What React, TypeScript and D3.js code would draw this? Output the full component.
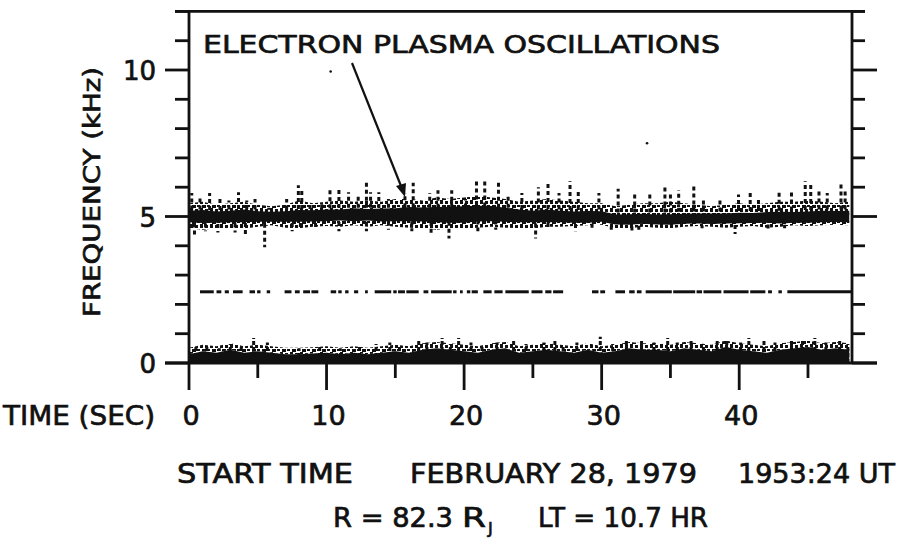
import React from 'react'
import * as d3 from 'd3'

const W = 897
const H = 538

// axis ticks
const xMajor = [0, 10, 20, 30, 40]
const xMinor = [5, 15, 25, 35, 45]
const yMajor = [0, 5, 10]
const yMinor = [1, 2, 3, 4, 6, 7, 8, 9, 11, 12]

// one-second bins, 0..48 s
const binTime = [0, 1, 2, 3, 4, 5, 6, 7, 8, 9, 10, 11, 12, 13, 14, 15, 16, 17, 18, 19, 20, 21, 22, 23, 24, 25, 26, 27, 28, 29, 30, 31, 32, 33, 34, 35, 36, 37, 38, 39, 40, 41, 42, 43, 44, 45, 46, 47, 48]

// electron plasma oscillation band (kHz)
const coreMid = [5.0, 5.0, 4.98, 5.0, 5.02, 5.0, 4.99, 5.0, 5.02, 5.02,
	5.04, 5.05, 5.06, 5.06, 5.05, 5.06, 5.08, 5.07, 5.06, 5.06,
	5.07, 5.1, 5.1, 5.06, 5.02, 5.0, 5.02, 5.0, 4.98, 4.99,
	5.0, 4.9, 4.9, 4.92, 4.9, 4.9, 4.92, 4.93, 4.92, 4.93,
	4.95, 4.95, 4.97, 4.96, 4.97, 4.98, 5.0, 5.0, 5.0]
const coreHalf = [0.2, 0.22, 0.19, 0.2, 0.22, 0.18, 0.17, 0.18, 0.2, 0.19,
	0.2, 0.19, 0.22, 0.2, 0.22, 0.22, 0.24, 0.24, 0.26, 0.27,
	0.28, 0.27, 0.26, 0.24, 0.22, 0.2, 0.22, 0.2, 0.19, 0.2,
	0.18, 0.17, 0.18, 0.17, 0.17, 0.18, 0.17, 0.17, 0.18, 0.17,
	0.18, 0.17, 0.18, 0.2, 0.18, 0.19, 0.2, 0.19, 0.2]
const fuzzTop = [5.45, 5.5, 5.4, 5.45, 5.5, 5.4, 5.35, 5.4, 5.55, 5.45,
	5.5, 5.55, 5.5, 5.55, 5.5, 5.6, 5.6, 5.55, 5.65, 5.6,
	5.65, 5.7, 5.65, 5.6, 5.5, 5.55, 5.6, 5.55, 5.5, 5.45,
	5.45, 5.35, 5.4, 5.45, 5.45, 5.5, 5.45, 5.4, 5.35, 5.4,
	5.45, 5.4, 5.45, 5.5, 5.5, 5.55, 5.5, 5.45, 5.5]
const fuzzBottom = [4.6, 4.55, 4.6, 4.6, 4.58, 4.65, 4.7, 4.62, 4.6, 4.65,
	4.68, 4.65, 4.7, 4.65, 4.7, 4.65, 4.62, 4.6, 4.55, 4.6,
	4.6, 4.62, 4.65, 4.62, 4.6, 4.58, 4.65, 4.65, 4.68, 4.7,
	4.72, 4.6, 4.6, 4.65, 4.62, 4.6, 4.65, 4.68, 4.65, 4.62,
	4.65, 4.68, 4.62, 4.65, 4.7, 4.68, 4.7, 4.72, 4.7]

// [time s, top kHz]
const upperSpikes = [[0.2, 5.8], [0.8, 5.65], [1.5, 5.8], [2.25, 5.6], [2.9, 5.55], [3.6, 5.83], [4.2, 5.55], [4.8, 5.6],
	[5.8, 5.3], [7.1, 5.6], [7.95, 6.07], [8.2, 5.9], [8.8, 5.45], [9.65, 5.45], [10.25, 5.9], [10.9, 6.0],
	[11.6, 5.83], [12.3, 5.7], [12.9, 6.15], [13.2, 5.83], [13.8, 5.83], [14.5, 5.6], [15.7, 5.8], [16.3, 6.15],
	[17.5, 5.8], [18.1, 5.9], [19.1, 5.9], [20.1, 5.6], [20.9, 6.25], [21.5, 6.2], [22.5, 6.15], [23.2, 5.7],
	[24.2, 5.8], [25.4, 6.0], [26.1, 6.15], [26.9, 5.8], [27.7, 6.2], [28.3, 5.85], [29.8, 5.8], [31.2, 5.95],
	[32.4, 5.8], [33.5, 5.75], [34.6, 6.0], [35.0, 5.85], [35.6, 5.9], [36.7, 6.1], [37.4, 5.6], [38.6, 5.65],
	[39.95, 5.75], [40.8, 5.9], [41.4, 5.6], [42.9, 5.83], [43.8, 5.83], [44.8, 6.2], [45.2, 6.1], [45.8, 5.9],
	[46.4, 5.8], [47.4, 6.15], [47.7, 5.9]]
// [time s, bottom kHz]
const lowerSpikes = [[0.4, 4.37], [1.2, 4.5], [2.1, 4.45], [3.35, 4.45], [4.1, 4.4], [5.5, 3.95], [7.5, 4.5], [8.1, 4.55],
	[9.2, 4.6], [10.9, 4.5], [12.9, 4.5], [14.5, 4.55], [16.2, 4.5], [17.6, 4.4], [18.9, 4.25], [21.0, 4.5],
	[22.3, 4.55], [25.2, 4.25], [26.1, 4.55], [28.1, 4.5], [29.3, 4.6], [30.7, 4.55], [32.2, 4.5], [32.7, 4.5],
	[37.3, 4.6], [39.7, 4.4], [42.1, 4.55], [43.3, 4.6]]

// steady tone near 2.4 kHz, [start s, end s]
const toneFreq = 2.43
const toneSegments = [[0.8, 1.8], [2.0, 2.35], [2.6, 2.9], [3.2, 3.9], [4.4, 4.8], [4.95, 5.2], [5.65, 5.9],
	[6.95, 7.45], [7.7, 8.05], [8.3, 8.8], [8.9, 9.4],
	[10.3, 10.7], [10.85, 11.1], [11.35, 11.6], [12.0, 12.3], [12.8, 13.0], [13.5, 14.7], [14.85, 15.1],
	[15.2, 15.7], [15.8, 16.7], [17.05, 17.4], [17.6, 19.1], [19.2, 19.45], [19.7, 19.9], [20.2, 20.45],
	[20.55, 21.0], [21.4, 22.0], [22.2, 22.8], [23.0, 24.7], [24.9, 25.7], [25.9, 26.35], [26.47, 27.2],
	[29.3, 29.77], [29.9, 30.25], [31.0, 31.7], [32.0, 32.4], [32.56, 32.9], [33.2, 35.1], [35.2, 36.8],
	[36.9, 37.3], [37.4, 38.7], [38.86, 40.68], [40.8, 41.9], [42.1, 42.38], [42.85, 43.1], [43.5, 48.2]]

// low-frequency noise band, top of solid part per bin (kHz)
const lowTop = [0.3, 0.4, 0.35, 0.45, 0.35, 0.4, 0.35, 0.3, 0.3, 0.32,
	0.35, 0.3, 0.35, 0.3, 0.35, 0.4, 0.35, 0.45, 0.5, 0.45,
	0.4, 0.35, 0.45, 0.5, 0.35, 0.4, 0.45, 0.4, 0.35, 0.45,
	0.35, 0.4, 0.5, 0.45, 0.45, 0.4, 0.5, 0.45, 0.4, 0.55,
	0.45, 0.4, 0.35, 0.45, 0.5, 0.55, 0.45, 0.5, 0.45]
const lowSpikes = [[0.5, 0.55], [1.3, 0.6], [2.2, 0.5], [3.0, 0.65], [3.8, 0.55], [4.7, 0.85], [5.7, 0.7], [8.0, 0.5],
	[9.5, 0.55], [11.0, 0.5], [12.4, 0.55], [13.6, 0.65], [14.6, 0.7], [15.3, 0.6], [16.7, 0.75], [17.3, 0.7],
	[18.4, 0.85], [19.0, 0.65], [19.6, 0.85], [20.5, 0.7], [21.3, 0.6], [22.4, 0.7], [23.6, 0.75], [24.5, 0.65],
	[25.8, 0.7], [26.6, 0.8], [27.2, 0.6], [28.2, 0.7], [29.9, 0.9], [30.8, 0.65], [31.8, 0.75], [32.9, 0.8],
	[33.8, 0.7], [34.8, 0.85], [35.5, 0.7], [36.5, 0.8], [37.4, 0.65], [38.4, 0.75], [39.1, 0.8], [40.1, 0.7],
	[40.7, 0.85], [41.8, 0.75], [42.6, 0.7], [43.8, 0.8], [44.6, 0.75], [45.5, 0.85], [46.3, 0.7], [47.3, 0.8],
	[47.9, 0.65]]

const strayDots = [[10.3, 9.95], [33.3, 7.5]]

const INK = '#111'
const FONT = '"DejaVu Sans", "Liberation Sans", sans-serif'

export default function App() {
	const x = d3.scaleLinear().domain([0, 48.2]).range([189, 852])
	const y = d3.scaleLinear().domain([0, 12]).range([363, 11.4])
	const left = x(0), right = x(48.2), bottom = y(0), top = y(12)

	const coreArea = d3.area<number>()
		.x(i => x(binTime[i]))
		.y0(i => y(coreMid[i] - coreHalf[i]))
		.y1(i => y(coreMid[i] + coreHalf[i]))
	const fuzzArea = d3.area<number>()
		.x(i => x(binTime[i]))
		.y0(i => y(fuzzBottom[i]))
		.y1(i => y(fuzzTop[i]))
	const lowArea = d3.area<number>()
		.x(i => x(binTime[i]))
		.y0(() => y(0))
		.y1(i => y(lowTop[i]))
	const lowFuzz = d3.area<number>()
		.x(i => x(binTime[i]))
		.y0(i => y(lowTop[i]))
		.y1(i => y(lowTop[i] + 0.22))
	const idx = binTime.map((_, i) => i)
	const midAt = (t: number) => coreMid[Math.min(48, Math.round(t))]

	return (
		<svg width={W} height={H} style={{ position: 'absolute', left: 0, top: 0, background: '#fff' }}>
			<defs>
				<pattern id="fuzz" width={10} height={8} patternUnits="userSpaceOnUse">
					<rect x={0} y={0} width={3} height={4} fill={INK} />
					<rect x={5} y={1} width={3} height={3} fill={INK} />
					<rect x={2} y={5} width={4} height={3} fill={INK} />
					<rect x={7} y={5} width={3} height={2} fill={INK} />
				</pattern>
			</defs>
			<rect width={W} height={H} fill="#fff" />

			{/* data */}
			<path d={fuzzArea(idx) || ''} fill="url(#fuzz)" />
			<path d={coreArea(idx) || ''} fill={INK} />
			{upperSpikes.map(([t, f], i) => (
				<line key={'u' + i} x1={x(t)} x2={x(t)} y1={y(midAt(t))} y2={y(f)}
					stroke={INK} strokeWidth={3} strokeDasharray="4 3" />
			))}
			{lowerSpikes.map(([t, f], i) => (
				<line key={'l' + i} x1={x(t)} x2={x(t)} y1={y(midAt(t))} y2={y(f)}
					stroke={INK} strokeWidth={3} strokeDasharray="4 3" />
			))}
			{toneSegments.map(([a, b], i) => (
				<line key={'s' + i} x1={x(a)} x2={Math.min(x(b), right)} y1={y(toneFreq)} y2={y(toneFreq)}
					stroke={INK} strokeWidth={3} />
			))}
			<path d={lowFuzz(idx) || ''} fill="url(#fuzz)" />
			<path d={lowArea(idx) || ''} fill={INK} />
			{lowSpikes.map(([t, f], i) => (
				<line key={'z' + i} x1={x(t)} x2={x(t)} y1={y(0)} y2={y(f)}
					stroke={INK} strokeWidth={3} strokeDasharray="4 2" />
			))}
			{strayDots.map(([t, f], i) => (
				<circle key={'d' + i} cx={x(t)} cy={y(f)} r={1.3} fill={INK} />
			))}

			{/* frame and ticks */}
			<g stroke={INK} strokeWidth={2.8} fill="none">
				<line x1={left} x2={left} y1={top} y2={bottom} />
				<line x1={right} x2={right} y1={top} y2={bottom} />
				<line x1={left - 14} x2={right + 13} y1={top} y2={top} />
				<line x1={left - 24} x2={right + 25} y1={bottom} y2={bottom} />
				{yMajor.map(v => (
					<g key={'ym' + v}>
						<line x1={left - 24} x2={left} y1={y(v)} y2={y(v)} />
						<line x1={right} x2={right + 25} y1={y(v)} y2={y(v)} />
					</g>
				))}
				{yMinor.map(v => (
					<g key={'yn' + v}>
						<line x1={left - 14} x2={left} y1={y(v)} y2={y(v)} />
						<line x1={right} x2={right + 13} y1={y(v)} y2={y(v)} />
					</g>
				))}
				{xMajor.map(v => <line key={'xm' + v} x1={x(v)} x2={x(v)} y1={bottom} y2={bottom + 27} />)}
				{xMinor.map(v => <line key={'xn' + v} x1={x(v)} x2={x(v)} y1={bottom} y2={bottom + 15} />)}
			</g>

			{/* arrow to the band */}
			<line x1={352} y1={63} x2={401} y2={186} stroke={INK} strokeWidth={2.2} />
			<path d="M405,197 L396,186 L406,183 Z" fill={INK} />

			{/* text */}
			<g fill={INK} stroke={INK} strokeWidth={0.7} fontFamily={FONT}>
				<text x={203} y={53} fontSize={25} textLength={517} lengthAdjust="spacingAndGlyphs">ELECTRON PLASMA OSCILLATIONS</text>
				{yMajor.map(v => (
					<text key={'yl' + v} x={156} y={y(v) + 10} fontSize={26} textAnchor="end">{v}</text>
				))}
				<text transform={`translate(100,192) rotate(-90)`} fontSize={23} textAnchor="middle"
					textLength={250} lengthAdjust="spacingAndGlyphs">FREQUENCY (kHz)</text>
				<text x={3} y={425} fontSize={27} textLength={152} lengthAdjust="spacingAndGlyphs">TIME (SEC)</text>
				{xMajor.map(v => (
					<text key={'xl' + v} x={x(v) + 2} y={425} fontSize={27} textAnchor="middle">{v}</text>
				))}
				<text x={177} y={483} fontSize={26} textLength={176} lengthAdjust="spacingAndGlyphs">START TIME</text>
				<text x={410} y={483} fontSize={26} textLength={287} lengthAdjust="spacingAndGlyphs">FEBRUARY 28, 1979</text>
				<text x={738} y={483} fontSize={26} textLength={157} lengthAdjust="spacingAndGlyphs">1953:24 UT</text>
				<text x={333} y={527} fontSize={26} textLength={120} lengthAdjust="spacingAndGlyphs">R = 82.3</text>
				<text x={462} y={527} fontSize={26} textLength={24} lengthAdjust="spacingAndGlyphs">R</text>
				<text x={488} y={534} fontSize={16}>J</text>
				<text x={538} y={527} fontSize={26} textLength={170} lengthAdjust="spacingAndGlyphs">LT = 10.7 HR</text>
			</g>
		</svg>
	)
}
